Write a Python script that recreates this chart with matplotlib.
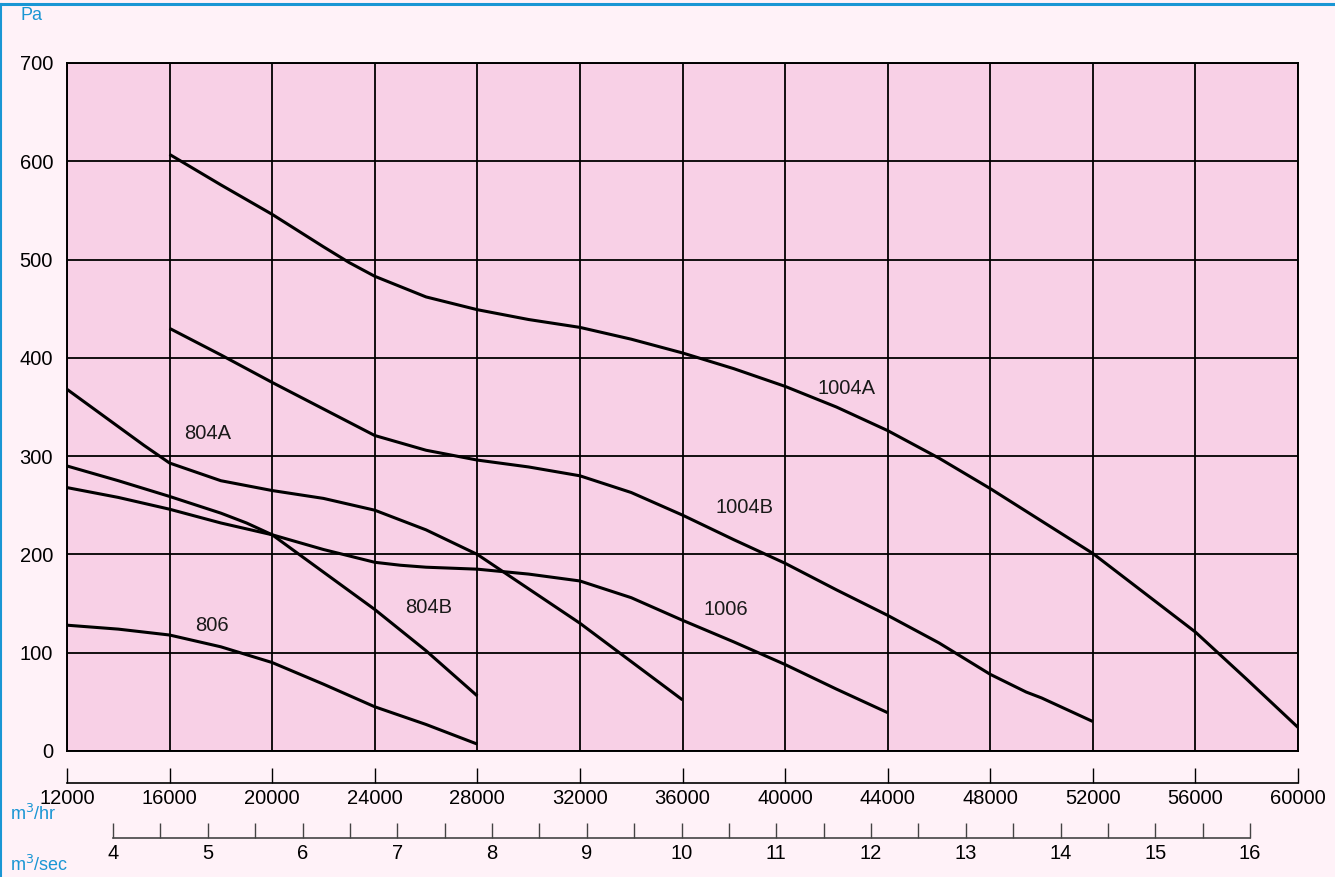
import matplotlib.pyplot as plt
from matplotlib.lines import Line2D
import numpy as np

plt.rcParams['font.family'] = ['Liberation Sans', 'DejaVu Sans']

# curve data (m3/hr, Pa)
x_1004a = [16000, 18000, 20000, 22000, 23000, 24000, 26000, 28000, 30000, 32000,
           34000, 36000, 38000, 40000, 42000, 44000, 46000, 48000, 50000, 52000,
           54000, 56000, 58000, 60000]
y_1004a = [607, 576, 546, 513, 497, 483, 462, 449, 439, 431,
           419, 405, 389, 371, 350, 326, 298, 267, 234, 201,
           161, 121, 73, 24]

x_1004b = [16000, 18000, 20000, 22000, 24000, 26000, 28000, 30000, 32000, 34000,
           36000, 38000, 40000, 42000, 44000, 46000, 48000, 49400, 50000, 52000]
y_1004b = [430, 403, 375, 348, 321, 306, 296, 289, 280, 263,
           240, 215, 191, 164, 138, 110, 78, 60, 54, 30]

x_804a = [12000, 13000, 14000, 15000, 16000, 18000, 20000, 22000, 24000, 26000,
          28000, 30000, 32000, 34000, 36000]
y_804a = [368, 349, 330, 311, 293, 275, 265, 257, 245, 225,
          200, 165, 130, 91, 52]

x_804b = [12000, 14000, 16000, 18000, 19000, 20000, 22000, 24000, 25000, 26000, 28000]
y_804b = [290, 275, 259, 242, 232, 220, 182, 144, 123, 102, 56]

x_1006 = [12000, 14000, 16000, 18000, 20000, 22000, 24000, 25000, 26000, 28000,
          30000, 32000, 34000, 36000, 38000, 40000, 42000, 44000]
y_1006 = [268, 258, 246, 232, 220, 205, 192, 189, 187, 185,
          180, 173, 156, 133, 111, 88, 63, 39]

x_806 = [12000, 14000, 16000, 18000, 20000, 22000, 24000, 26000, 28000]
y_806 = [128, 124, 118, 106, 90, 68, 45, 27, 7]

curve_names = ['1004A', '1004B', '804A', '804B', '1006', '806']
label_x = [42400, 38400, 17500, 26100, 37700, 17650]
label_y = [369, 248, 323, 146, 144, 128]

hr_ticks = list(range(12000, 60001, 4000))
sec_ticks = list(range(4, 17))
pa_ticks = list(range(0, 701, 100))

pink = '#f8d0e6'
bg = '#fff2f8'
blue = '#1a96d4'

fig = plt.figure(figsize=(13.35, 8.77), dpi=100, facecolor=bg)

# main chart
ax = fig.add_axes([67/1335, 1-751/877, 1231/1335, 688/877])
ax.set_facecolor(pink)
ax.set_xlim(12000, 60000)
ax.set_ylim(0, 700)
ax.set_xticks(hr_ticks)
ax.set_yticks(pa_ticks)
ax.tick_params(axis='x', length=0, labelbottom=False)
ax.tick_params(axis='y', length=0, labelsize=14.5, pad=10)
ax.grid(True, color='black', linewidth=1.3)
for sp in ax.spines.values():
    sp.set_color('black')
    sp.set_linewidth(1.4)

for xs, ys in [(x_1004a, y_1004a), (x_1004b, y_1004b), (x_804a, y_804a),
               (x_804b, y_804b), (x_1006, y_1006), (x_806, y_806)]:
    ax.plot(xs, ys, color='black', linewidth=2.2, zorder=3,
            solid_joinstyle='round', solid_capstyle='butt')

for name, lx, ly in zip(curve_names, label_x, label_y):
    ax.text(lx, ly, name, ha='center', va='center', fontsize=14.5,
            color='#1a1a1a', zorder=4)

# m3/hr scale
ax_hr = fig.add_axes([67/1335, 1-783/877, 1231/1335, 0.001])
ax_hr.set_facecolor('none')
ax_hr.set_xlim(12000, 60000)
ax_hr.set_xticks(hr_ticks)
ax_hr.set_yticks([])
for s in ['left', 'right', 'top']:
    ax_hr.spines[s].set_visible(False)
ax_hr.spines['bottom'].set_linewidth(1.2)
ax_hr.tick_params(axis='x', direction='in', length=11, width=1, labelsize=14.5, pad=4)

# m3/sec scale
ax_sec = fig.add_axes([113/1335, 1-838/877, 1137/1335, 0.001])
ax_sec.set_facecolor('none')
ax_sec.set_xlim(4, 16)
ax_sec.set_xticks(sec_ticks)
ax_sec.set_xticks(np.arange(4.5, 16, 1), minor=True)
ax_sec.set_yticks([])
for s in ['left', 'right', 'top']:
    ax_sec.spines[s].set_visible(False)
ax_sec.spines['bottom'].set_linewidth(1.2)
ax_sec.spines['bottom'].set_color('#444444')
ax_sec.tick_params(axis='x', which='both', direction='in', length=11, width=1,
                   labelsize=14.5, pad=4, color='#444444')

# unit labels
fig.text(21/1335, 1-15/877, 'Pa', color=blue, fontsize=13, ha='left', va='center')
fig.text(10/1335, 1-814/877, 'm$^3$/hr', color=blue, fontsize=13, ha='left', va='center')
fig.text(10/1335, 1-865/877, 'm$^3$/sec', color=blue, fontsize=13, ha='left', va='center')

# blue frame
fig.add_artist(Line2D([0, 1], [1-3.5/877, 1-3.5/877], color=blue, linewidth=2.2,
                      transform=fig.transFigure))
fig.add_artist(Line2D([1/1335, 1/1335], [0, 1-3.5/877], color=blue, linewidth=1.5,
                      transform=fig.transFigure))

fig.savefig('out.png', dpi=100, facecolor=bg)
